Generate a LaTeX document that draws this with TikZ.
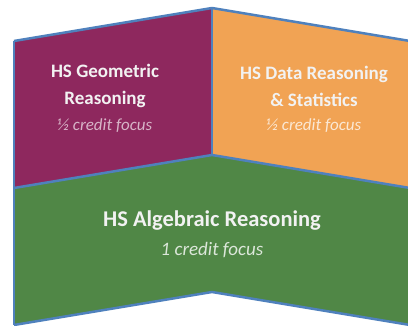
\documentclass[tikz,border=0pt]{standalone}
\usepackage{fontspec}
\setmainfont{Carlito}
\usepackage{tikz}

\definecolor{geomcol}{RGB}{142,40,94}
\definecolor{datacol}{RGB}{241,163,84}
\definecolor{algcol}{RGB}{80,135,70}
\definecolor{edgecol}{RGB}{79,129,189}

\begin{document}
\begin{tikzpicture}[x=1pt, y=-1pt, line join=round]
        \useasboundingbox (0,0) rectangle (408,325);

        \fill[algcol] (14,188) -- (212,155) -- (410,188) -- (410,325) -- (212,292) -- (14,325) -- cycle;
        \fill[geomcol] (14,41) -- (212,8) -- (212,155) -- (14,188) -- cycle;
        \fill[datacol] (212,8) -- (410,41) -- (410,188) -- (212,155) -- cycle;

        \draw[edgecol, line width=2.5pt] (14,41) -- (212,8) -- (410,41);
        \draw[edgecol, line width=2.5pt] (14,188) -- (212,155) -- (410,188);
        \draw[edgecol, line width=2.5pt] (14,325) -- (212,292) -- (410,325);
        \draw[edgecol, line width=2.5pt] (14,41) -- (14,325);
        \draw[edgecol, line width=1.5pt] (212,8) -- (212,155);

        \node[text=white!95!black, font=\fontsize{19}{27}\selectfont\bfseries, align=center] (geom) at (105,86) {HS Geometric\\Reasoning};
        \node[text=geomcol!35!white, font=\fontsize{17}{20}\selectfont\itshape] (geomsub) at (105,126) {½ credit focus};

        \node[text=white!95!black, font=\fontsize{19}{27}\selectfont\bfseries, align=center] (data) at (314,86) {HS Data Reasoning\\\& Statistics};
        \node[text=datacol!25!white, font=\fontsize{17}{20}\selectfont\itshape] (datasub) at (314,126) {½ credit focus};

        \node[text=white!95!black, font=\fontsize{22.5}{27}\selectfont\bfseries] (alg) at (212,221) {HS Algebraic Reasoning};
        \node[text=algcol!20!white, font=\fontsize{19}{22}\selectfont\itshape] (algsub) at (212,250) {1 credit focus};
\end{tikzpicture}
\end{document}
